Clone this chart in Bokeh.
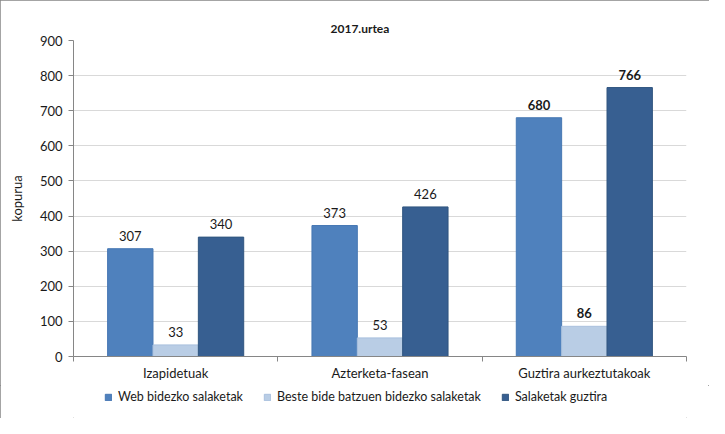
import numpy as np
from bokeh.plotting import figure
from bokeh.layouts import column
from bokeh.models import ColumnDataSource, FixedTicker, Legend, LegendItem, Range1d
from bokeh.transform import dodge
from bokeh.core.properties import value, field
from bokeh.embed import file_html
from bokeh.resources import INLINE

title = "2017.urtea"
categories = ["Izapidetuak", "Azterketa-fasean", "Guztira aurkeztutakoak"]
series_names = ["Web bidezko salaketak", "Beste bide batzuen bidezko salaketak", "Salaketak guztira"]
web = [307, 373, 680]
beste = [33, 53, 86]
guztira = [340, 426, 766]
y_ticks = [0, 100, 200, 300, 400, 500, 600, 700, 800, 900]
y_label = "kopurua"
bold_categories = ["Guztira aurkeztutakoak"]

FONT = "Lato"
TXT = "#1a1a1a"
fills = ["#4F81BD", "#B9CDE5", "#375F91"]
edges = ["#4677B3", "#A9C0DE", "#30557F"]
BW = 0.222
W, H_MAIN, H_LEG = 709, 385, 33
cols = ["web", "beste", "guztira"]
offs = [-BW, 0, BW]

pos = np.arange(len(categories)) + 0.5
styles = ["bold" if c in bold_categories else "normal" for c in categories]
src = ColumnDataSource(dict(
    pos=pos, web=web, beste=beste, guztira=guztira,
    web_l=[str(v) for v in web], beste_l=[str(v) for v in beste],
    guztira_l=[str(v) for v in guztira], style=styles))

p = figure(width=W, height=H_MAIN, x_range=Range1d(0, len(categories)),
           y_range=Range1d(y_ticks[0], y_ticks[-1]),
           output_backend="svg", toolbar_location=None,
           min_border_left=73, min_border_right=23, min_border_top=40, min_border_bottom=29)

p.title.text = title
p.title.align = "left"
p.title.offset = 257
p.title.text_font = FONT
p.title.text_font_size = "12px"
p.title.text_font_style = "bold"
p.title.text_color = TXT

p.outline_line_color = None
p.xgrid.grid_line_color = None
p.ygrid.grid_line_color = "#D9D9D9"
p.ygrid.ticker = FixedTicker(ticks=y_ticks)

for col, off, fc, ec in zip(cols, offs, fills, edges):
    p.vbar(x=dodge("pos", off, range=p.x_range), top=col, width=BW, source=src,
           fill_color=fc, line_color=ec, line_width=1)
    p.text(x=dodge("pos", off, range=p.x_range), y=col, text=col + "_l", source=src,
           text_align="center", text_baseline="middle", y_offset=-13,
           text_font=value(FONT), text_font_size="13px", text_font_style=field("style"),
           text_color=TXT)

yax = p.yaxis[0]
yax.ticker = FixedTicker(ticks=y_ticks, minor_ticks=[])
yax.axis_label = y_label
yax.axis_label_text_font = FONT
yax.axis_label_text_font_size = "13px"
yax.axis_label_text_font_style = "normal"
yax.axis_label_text_color = TXT
yax.axis_label_standoff = 12
yax.major_label_text_font = FONT
yax.major_label_text_font_size = "13px"
yax.major_label_text_color = TXT
yax.major_label_standoff = 6
yax.major_tick_out = 5
yax.major_tick_in = 0
yax.minor_tick_out = 0
yax.axis_line_color = "#868686"
yax.major_tick_line_color = "#868686"

xax = p.xaxis[0]
xax.ticker = FixedTicker(ticks=list(pos), minor_ticks=list(range(len(categories) + 1)))
xax.major_label_overrides = {float(x): c for x, c in zip(pos, categories)}
xax.major_label_text_font = FONT
xax.major_label_text_font_size = "13px"
xax.major_label_text_color = TXT
xax.major_label_standoff = 3
xax.major_tick_out = 0
xax.major_tick_in = 0
xax.minor_tick_out = 5
xax.minor_tick_in = 0
xax.axis_line_color = "#868686"
xax.minor_tick_line_color = "#868686"

# legend strip below the chart (its proxy bars sit below the strip's visible y range)
pl = figure(width=W, height=H_LEG, x_range=Range1d(0, len(categories)),
            y_range=Range1d(2 * y_ticks[-1], 2 * y_ticks[-1] + 1),
            output_backend="svg", toolbar_location=None, x_axis_type=None, y_axis_type=None,
            min_border_left=73, min_border_right=23, min_border_top=0, min_border_bottom=0)
pl.outline_line_color = None
pl.xgrid.grid_line_color = None
pl.ygrid.grid_line_color = None
leg_r = [pl.vbar(x=dodge("pos", off, range=pl.x_range), top=col, width=BW, source=src,
                 fill_color=fc, line_color=ec)
         for col, off, fc, ec in zip(cols, offs, fills, edges)]
legend = Legend(items=[LegendItem(label=n, renderers=[r]) for n, r in zip(series_names, leg_r)],
                orientation="horizontal", location=(31, 14),
                border_line_color=None, background_fill_alpha=0,
                glyph_width=8, glyph_height=8, label_standoff=6,
                spacing=20, padding=2, margin=0,
                label_text_font=FONT, label_text_font_size="12.5px", label_text_color=TXT)
pl.add_layout(legend, "center")

lay = column(p, pl, spacing=0)
lay.styles = {"outline": "1px solid #868686", "outline-offset": "-1px"}

open("out.html", "w").write(file_html(lay, INLINE))
